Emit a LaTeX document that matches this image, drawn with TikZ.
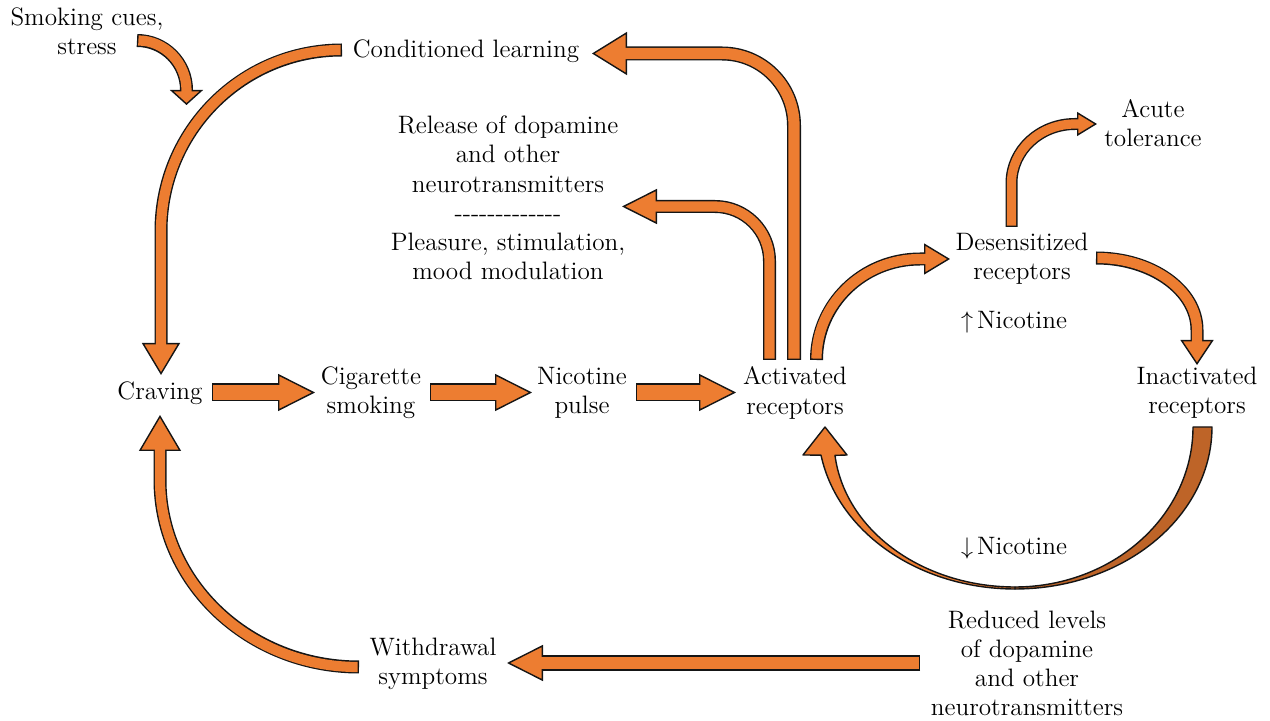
\documentclass[tikz,border=0pt]{standalone}
\usetikzlibrary{arrows.meta}
\definecolor{fillc}{HTML}{ED7D31}
\definecolor{shade}{HTML}{BE6428}
\definecolor{edge}{HTML}{151515}
\newcommand\bw{0.7pt}
% block arrow: #1 shaft width, #2 head length, #3 head width, #4 path
\newcommand\fatarrow[4]{%
  \draw[edge, line width=#1, line cap=butt, line join=round,
        -{Triangle[length=#2, width=#3, color=edge, fill=fillc, line width=\bw]}] #4;
  \draw[fillc, line width=#1-2*\bw, line cap=butt, line join=round,
        shorten <=\bw, shorten >=#2-2pt] #4;
}
\newcommand\hy{-\kern0pt}
\newcommand\dashrow{\hy\hy\hy\hy\hy\hy\hy\hy\hy\hy\hy\hy\hy}
\tikzset{lbl/.style={inner sep=0pt, align=center, text=black,
  font=\fontsize{12.6}{14.6}\selectfont}}
\begin{document}
\begin{tikzpicture}[x=0.5pt,y=-0.5pt]
\useasboundingbox (0,0) rectangle (1270,721);

% labels
\node[lbl] (cues) at (87,31.5) {Smoking cues,\\stress};
\node[lbl] (cond) at (466,51) {Conditioned learning};
\node[lbl] (rel) at (508,198) {Release of dopamine\\and other\\neurotransmitters\\\dashrow\\Pleasure, stimulation,\\mood modulation};
\node[lbl] (acute) at (1153,123) {Acute\\tolerance};
\node[lbl] (des) at (1022,258.5) {Desensitized\\receptors};
\node[lbl] (up) at (1014,322) {$\uparrow$\,Nicotine};
\node[lbl] (crav) at (160,393) {Craving};
\node[lbl] (cig) at (371,393) {Cigarette\\smoking};
\node[lbl] (pulse) at (582,393) {Nicotine\\pulse};
\node[lbl] (act) at (795,393) {Activated\\receptors};
\node[lbl] (inact) at (1197,393) {Inactivated\\receptors};
\node[lbl] (down) at (1014,548) {$\downarrow$\,Nicotine};
\node[lbl] (red) at (1027,663.5) {Reduced levels\\of dopamine\\and other\\neurotransmitters};
\node[lbl] (wd) at (433,663.5) {Withdrawal\\symptoms};

% arrow end points
\coordinate (cuesOut) at (137,40.5);
\coordinate (cuesIn) at (186.5,105);
\coordinate (condOut) at (342,50);
\coordinate (cravTop) at (161,375);
\coordinate (wdOut) at (359,667);
\coordinate (cravBot) at (160,415);
\coordinate (cravOut) at (212,392.5);
\coordinate (cigIn) at (315,392.5);
\coordinate (cigOut) at (430,392.5);
\coordinate (pulseIn) at (532,392.5);
\coordinate (pulseOut) at (636,392.5);
\coordinate (actIn) at (736,392.5);
\coordinate (actA) at (769.5,360);
\coordinate (relIn) at (622,206.5);
\coordinate (actB) at (794,360);
\coordinate (condIn) at (592,53.5);
\coordinate (actC) at (816.5,360);
\coordinate (desIn) at (950,259);
\coordinate (desUp) at (1011.5,227);
\coordinate (acuteIn) at (1097,124);
\coordinate (desOut) at (1096,258);
\coordinate (inactIn) at (1197,365);
\coordinate (redOut) at (920,663);
\coordinate (wdIn) at (507,663);

% block arrows
\fatarrow{6.5pt}{7.5pt}{16.5pt}{(cuesOut) .. controls (164.3,40.5) and (186.5,62.7) .. (186.5,90) -- (cuesIn)}
\fatarrow{6.5pt}{16pt}{19pt}{(condOut) .. controls (242,50) and (161,131) .. (161,231) -- (cravTop)}
\fatarrow{6.5pt}{18pt}{21pt}{(wdOut) .. controls (249,667) and (160,583) .. (160,480) -- (cravBot)}
\fatarrow{9pt}{18.5pt}{18.5pt}{(cravOut) -- (cigIn)}
\fatarrow{9pt}{18.5pt}{18.5pt}{(cigOut) -- (pulseIn)}
\fatarrow{9pt}{18.5pt}{18.5pt}{(pulseOut) -- (actIn)}
\fatarrow{6.5pt}{17.5pt}{17.5pt}{(actA) -- (769.5,261) .. controls (769.5,230.9) and (745.1,206.5) .. (715,206.5) -- (relIn)}
\fatarrow{7pt}{17.5pt}{21.5pt}{(actB) -- (794,125.5) .. controls (794,85.7) and (761.8,53.5) .. (722,53.5) -- (condIn)}
\fatarrow{6.5pt}{13pt}{15.5pt}{(actC) .. controls (816.5,304.2) and (862.8,259) .. (920,259) -- (desIn)}
\fatarrow{6pt}{10pt}{12pt}{(desUp) -- (1011.5,183) .. controls (1011.5,150.4) and (1039.9,124) .. (1075,124) -- (acuteIn)}
\fatarrow{6.5pt}{12.5pt}{16.5pt}{(desOut) .. controls (1151.8,258) and (1197,290.2) .. (1197,330) -- (inactIn)}
\fatarrow{7.5pt}{18pt}{18pt}{(redOut) -- (wdIn)}

% tapered return arrow from inactivated to activated receptors
\filldraw[fill=shade, draw=edge, line width=\bw, line join=round]
  plot[domain=90:0, samples=60] ({1015+197*cos(\x)},{427+162*sin(\x)})
  -- plot[domain=0:90, samples=60] ({1015+178*cos(\x)},{427+160*sin(\x)}) -- cycle;
\filldraw[fill=fillc, draw=edge, line width=\bw, line join=round]
  plot[domain=90:170, samples=60] ({1015+197*cos(\x)},{427+162*sin(\x)})
  -- (803,455) -- (825,427) -- (847,455)
  -- plot[domain=174:90, samples=60] ({1015+181*cos(\x)},{440+147*sin(\x)}) -- cycle;
\end{tikzpicture}
\end{document}
